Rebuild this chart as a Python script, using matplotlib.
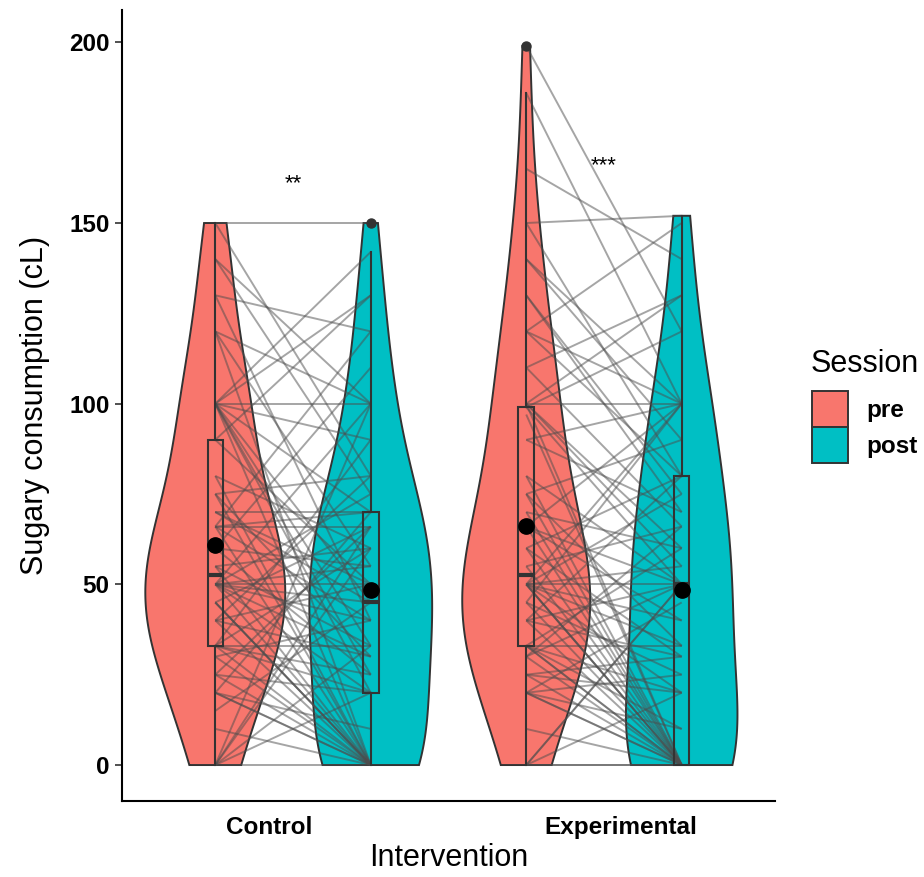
import numpy as np
import matplotlib
matplotlib.use("Agg")
import matplotlib.pyplot as plt
from matplotlib.patches import Polygon, Patch

plt.rcParams['font.family'] = ['Liberation Sans', 'DejaVu Sans']

# ---------------- data ----------------
groups = ["Control", "Experimental"]
sessions = ["pre", "post"]
session_colors = ["#F8766D", "#00BFC4"]

ctrl_pre = [0, 0, 0, 0, 0, 0, 10, 15, 20, 20, 20, 20, 25, 25, 25, 30, 30,
            33, 33, 33, 33, 33, 33, 40, 40, 40, 40, 45, 45, 45, 45,
            50, 50, 50, 50, 50, 50, 50, 50, 50, 55, 55, 55, 60, 60, 60,
            66, 66, 66, 66, 66, 70, 70, 70, 75, 75, 75, 80, 80, 90, 90,
            100, 100, 100, 100, 100, 100, 100, 100, 100, 100,
            120, 120, 120, 130, 130, 140, 140, 150, 150]
ctrl_post = [20, 60, 0, 33, 100, 66, 0, 45, 0, 0, 70, 10, 0, 66, 20, 40, 0,
             33, 0, 60, 20, 90, 25, 50, 0, 30, 80, 0, 66, 0, 0,
             50, 20, 0, 45, 100, 30, 75, 40, 55, 0, 33, 60, 25, 55, 110,
             66, 0, 40, 120, 70, 70, 50, 45, 30, 80, 0, 60, 0, 50, 130,
             33, 100, 20, 70, 0, 45, 142, 25, 90, 130,
             100, 0, 55, 40, 120, 100, 75, 150, 80]

exp_pre = [0, 0, 0, 0, 0, 10, 20, 20, 20, 20, 20, 25, 25, 25, 30, 30, 30,
           33, 33, 33, 33, 33, 33, 40, 40, 40, 40, 45, 45, 45,
           50, 50, 50, 50, 50, 50, 50, 50, 50, 50, 55, 55, 60, 60, 60,
           66, 66, 66, 66, 70, 70, 75, 75, 75, 80, 80, 90, 90, 97, 99, 99,
           100, 100, 100, 100, 100, 110, 110, 120, 120, 120, 130, 130,
           140, 140, 150, 150, 165, 186, 199]
exp_post = [0, 20, 0, 50, 50, 0, 0, 10, 45, 0, 25, 0, 30, 20, 50, 0, 66,
            0, 33, 20, 0, 60, 10, 0, 50, 30, 80, 0, 25, 100,
            0, 50, 0, 40, 75, 0, 20, 33, 55, 100, 0, 66, 30, 0, 80,
            50, 0, 100, 40, 0, 60, 33, 90, 0, 50, 0, 70, 100, 0, 50, 120,
            100, 0, 60, 55, 130, 66, 130, 80, 100, 150, 75, 70,
            90, 100, 152, 80, 140, 100, 120]

signif_labels = ["**", "***"]
signif_y = [161, 166]
y_ticks = [0, 50, 100, 150, 200]

# ---------------- layout ----------------
W, H = 924, 877
fig = plt.figure(figsize=(W / 100, H / 100), dpi=100)
ax = fig.add_axes([122 / W, 1 - 801 / H, (775 - 122) / W, (801 - 10) / H])

data = [(ctrl_pre, ctrl_post), (exp_pre, exp_post)]
pre_pos = [1, 3]
post_pos = [2, 4]
label_pos = [1.345, 3.606]
edge = "#333333"
BW_ADJUST = 1.3


def kde(vals):
    v = np.asarray(vals, float)
    n = len(v)
    sd = v.std(ddof=1)
    q75, q25 = np.percentile(v, [75, 25])
    bw = BW_ADJUST * 0.9 * min(sd, (q75 - q25) / 1.34) * n ** -0.2
    grid = np.linspace(v.min(), v.max(), 512)
    dens = np.exp(-0.5 * ((grid[:, None] - v[None, :]) / bw) ** 2).sum(1) / (n * bw * np.sqrt(2 * np.pi))
    return grid, dens


series = []
for g, (pre, post) in enumerate(data):
    series.append((pre_pos[g], pre, session_colors[0]))
    series.append((post_pos[g], post, session_colors[1]))

kdes = [kde(v) for _, v, _ in series]
dmax = max(d.max() for _, d in kdes)

# violins
for (pos, vals, col), (grid, dens) in zip(series, kdes):
    hw = 0.45 * dens / dmax
    xs = np.concatenate([pos - hw, (pos + hw)[::-1]])
    ys = np.concatenate([grid, grid[::-1]])
    ax.add_patch(Polygon(np.column_stack([xs, ys]), closed=True, facecolor=col,
                         edgecolor=edge, lw=1.4, zorder=1))

# paired lines
for g, (pre, post) in enumerate(data):
    for a, b in zip(pre, post):
        ax.plot([pre_pos[g], post_pos[g]], [a, b], color="#4d4d4d", alpha=0.5,
                lw=1.4, zorder=2, solid_capstyle="butt")

# boxplots
for pos, vals, col in series:
    ax.boxplot([vals], positions=[pos], widths=0.1, showcaps=False,
               patch_artist=True, manage_ticks=False,
               boxprops=dict(facecolor="none", edgecolor=edge, lw=1.5),
               whiskerprops=dict(color=edge, lw=1.5),
               medianprops=dict(color=edge, lw=3.0),
               flierprops=dict(marker="o", markerfacecolor=edge, markeredgecolor=edge,
                               markersize=6.5),
               zorder=3)
    ax.plot(pos, np.mean(vals), "o", color="black", ms=11, zorder=5)

# significance
for g in range(2):
    ax.text((pre_pos[g] + post_pos[g]) / 2, signif_y[g], signif_labels[g],
            ha="center", va="center", fontsize=16, zorder=6)

ax.set_xlim(0.4, 4.6)
ax.set_ylim(-9.95, 208.95)
ax.set_yticks(y_ticks)
ax.set_yticklabels([str(t) for t in y_ticks], fontsize=17.5, fontweight="bold")
ax.set_xticks(label_pos)
ax.set_xticklabels(groups, fontsize=17.5, fontweight="bold")
ax.tick_params(axis="x", length=0, pad=11)
ax.tick_params(axis="y", length=5, width=1.2, color=edge, pad=4)
for s in ["top", "right"]:
    ax.spines[s].set_visible(False)
for s in ["left", "bottom"]:
    ax.spines[s].set_linewidth(1.5)
ax.set_ylabel("Sugary consumption (cL)", fontsize=22, labelpad=14)
ax.set_xlabel("Intervention", fontsize=22, labelpad=3)

# legend (title drawn separately to match spacing)
fig.text(811 / W, 1 - 372 / H, "Session", fontsize=22, ha="left", va="baseline")
handles = [Patch(facecolor=c, edgecolor=edge, lw=1.4, label=s)
           for s, c in zip(sessions, session_colors)]
leg = fig.legend(handles=handles, loc="upper left",
                 bbox_to_anchor=(812 / W, 1 - 391 / H), frameon=False,
                 prop=dict(size=17.5, weight="bold"),
                 handlelength=1.48, handleheight=1.9, labelspacing=0.0,
                 handletextpad=0.75, borderpad=0, borderaxespad=0)

fig.savefig("out.png", dpi=100)
